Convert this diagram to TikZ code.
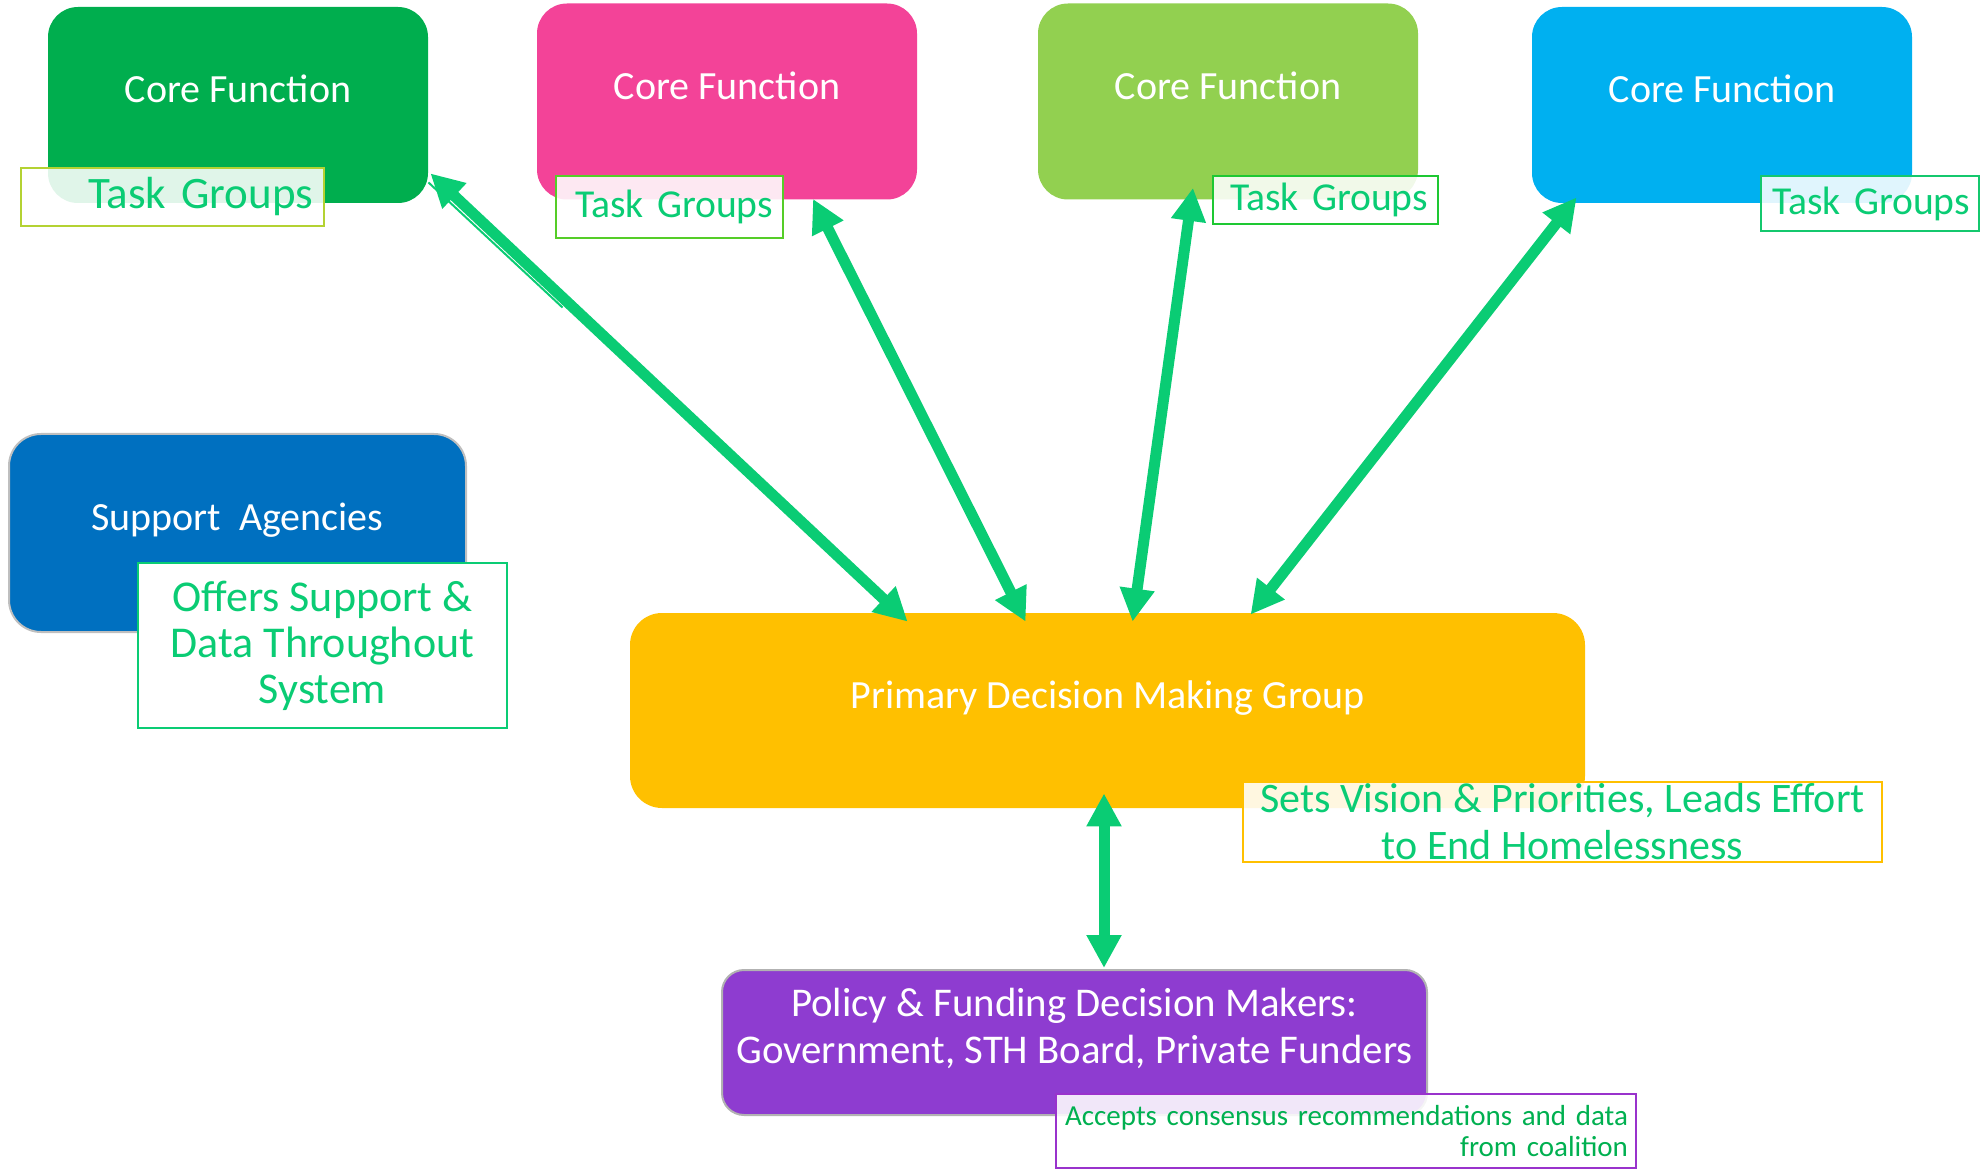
\documentclass[tikz,border=0pt]{standalone}
\usepackage{fontspec}
\setmainfont{Carlito}
\usetikzlibrary{arrows.meta}

\definecolor{cfgreen}{RGB}{0,174,78}
\definecolor{cfpink}{RGB}{243,67,152}
\definecolor{cflime}{RGB}{146,208,80}
\definecolor{cfcyan}{RGB}{0,176,240}
\definecolor{sablue}{RGB}{0,112,192}
\definecolor{pdmgold}{RGB}{255,192,0}
\definecolor{pfpurple}{RGB}{142,60,208}
\definecolor{linkgreen}{RGB}{10,204,116}
\definecolor{notegreen}{RGB}{0,176,80}
\definecolor{notepurple}{RGB}{153,51,204}

\begin{document}
\begin{tikzpicture}[x=0.5pt, y=-0.5pt,
  core box/.style={rounded corners=15pt, minimum width=190pt, minimum height=98pt, inner sep=0pt},
  box text/.style={text=white, font=\fontsize{20}{23.5}\selectfont, align=center},
  task note/.style={draw, fill=white, fill opacity=0.88, text opacity=1, text=linkgreen, line width=1.25pt, inner ysep=0pt, align=right, font=\fontsize{19.8}{24}\selectfont},
  link/.style={draw=linkgreen, line width=5.5pt, {Triangle[length=16.5pt,width=16.5pt]}-{Triangle[length=16.5pt,width=16.5pt]}}]
\useasboundingbox (0,0) rectangle (1982,1171);

% core functions
\node [core box, fill=cfgreen, label={[box text, yshift=8pt]center:Core Function}](cf1) at (238,105) {};
\node [core box, fill=cfpink, label={[box text, yshift=8pt]center:Core Function}](cf2) at (727,101.5) {};
\node [core box, fill=cflime, label={[box text, yshift=8pt]center:Core Function}](cf3) at (1228,101.5) {};
\node [core box, fill=cfcyan, label={[box text, yshift=8pt]center:Core Function}](cf4) at (1722,105) {};

\node [task note, draw={rgb,255:red,180;green,210;blue,50}, inner xsep=5.5pt, text width=140.5pt, minimum height=29pt, font=\fontsize{22.5}{26}\selectfont](tg1) at (172.5,197) {Task~Groups};
\node [task note, draw={rgb,255:red,85;green,205;blue,40}, inner xsep=5pt, text width=103.5pt, minimum height=31pt](tg2) at (669.5,207) {Task~Groups};
\node [task note, draw={rgb,255:red,30;green,200;blue,50}, inner xsep=5pt, text width=102.5pt, minimum height=24pt](tg3) at (1325.5,200) {Task~Groups};
\node [task note, draw={rgb,255:red,20;green,200;blue,110}, inner xsep=4.5pt, text width=100pt, minimum height=27.5pt](tg4) at (1870,203.5) {Task~Groups};

% support agencies
\node [rounded corners=16pt, fill=sablue, draw=gray!50, line width=1pt, minimum width=228.5pt, minimum height=99pt, label={[box text, yshift=6.25pt]center:Support\ \ Agencies}](sa) at (237.5,533) {};
\node [draw=linkgreen, fill=white, line width=1.25pt, text=linkgreen, minimum width=184.5pt, minimum height=82.5pt, align=center, font=\fontsize{22}{23}\selectfont](offers) at (322.5,645.5) {Offers Support \&\\Data Throughout\\System};

% primary group
\node [rounded corners=16pt, fill=pdmgold, minimum width=477.5pt, minimum height=97.5pt, label={[box text, yshift=6.25pt]center:Primary Decision Making Group}](pdm) at (1107.5,710.5) {};
\node [draw=pdmgold, fill=white, fill opacity=0.88, text opacity=1, line width=1.25pt, text=linkgreen, minimum width=319.5pt, minimum height=40pt, inner sep=0pt, align=center, font=\fontsize{21}{23.5}\selectfont](vision) at (1562.5,822) {Sets Vision \& Priorities, Leads Effort\\to End Homelessness};

% decision makers
\node [rounded corners=11pt, fill=pfpurple, draw=gray!60, line width=1pt, minimum width=352.5pt, minimum height=72.5pt, label={[box text, font=\fontsize{20.4}{23.5}\selectfont, yshift=7pt]center:{Policy \& Funding Decision Makers:\\Government, STH Board, Private Funders}}](pf) at (1074.5,1042.5) {};
\node [draw=notepurple, fill=white, fill opacity=0.88, text opacity=1, line width=1.25pt, text=notegreen, minimum height=37pt, inner xsep=4pt, inner ysep=0pt, text width=282pt, align=right, font=\fontsize{14.5}{15.5}\selectfont](accepts) at (1346,1131) {Accepts consensus recommendations and data\\from coalition};

% links
\draw [linkgreen, line width=1pt] ([shift={(0,-21)}]cf1.south east) -- ([shift={(-67,-305)}]pdm.north west);
\draw [link] ([shift={(2,-30)}]cf1.south east) -- ([shift={(278,9)}]pdm.north west);
\draw [link] ([shift={(86,-1)}]cf2.south) -- ([shift={(396,9)}]pdm.north west);
\draw [link] ([shift={(-35,-12)}]cf3.south) -- ([shift={(503,9)}]pdm.north west);
\draw [link] ([shift={(45,-6)}]cf4.south west) -- ([shift={(621,2)}]pdm.north west);
\draw [link] ([shift={(-3.5,-15)}]pdm.south) -- ([shift={(29.5,-1)}]pf.north);
\end{tikzpicture}
\end{document}
